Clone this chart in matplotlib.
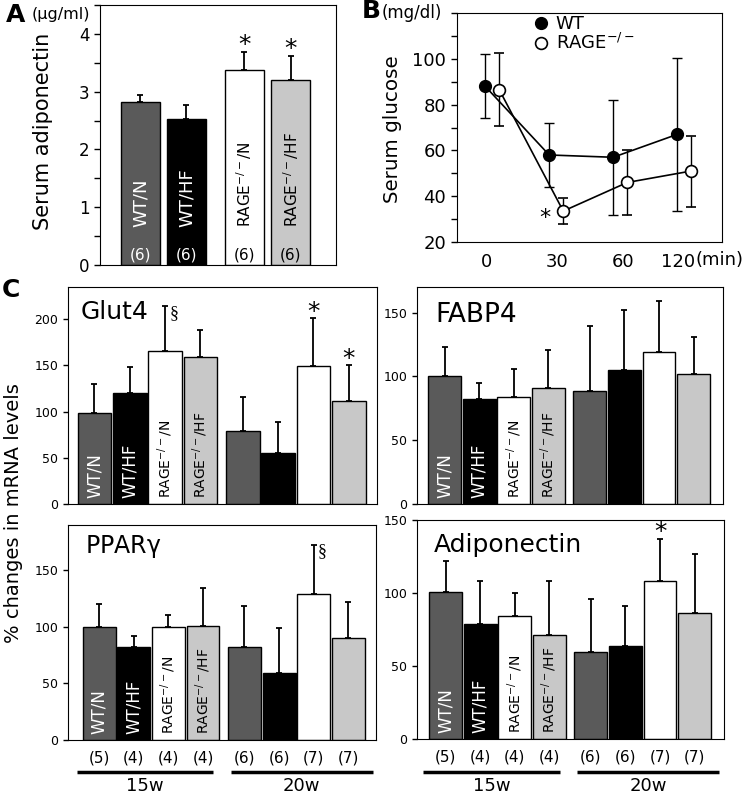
import matplotlib
matplotlib.use('Agg')
import matplotlib.pyplot as plt
from matplotlib.lines import Line2D
from matplotlib.ticker import MultipleLocator
import numpy as np

# ---- data ----
# A: serum adiponectin (ug/ml)
a_groups = ['WT/N', 'WT/HF', 'RAGE$^{-/-}$/N', 'RAGE$^{-/-}$/HF']
a_mean = [2.82, 2.53, 3.37, 3.21]
a_err = [0.12, 0.24, 0.32, 0.41]
a_n = [6, 6, 6, 6]
a_star = [False, False, True, True]

# B: serum glucose (mg/dl)
b_times = ['0', '30', '60', '120']
b_wt = [88, 58, 57, 67]
b_wt_err = [14, 14, 25, 33.5]
b_rage = [86.5, 33.5, 46, 51]
b_rage_err = [16, 5.75, 14, 15.5]

# C: % changes in mRNA levels
c_n = [5, 4, 4, 4, 6, 6, 7, 7]
glut4 = [99, 120, 166, 159, 79.5, 55.4, 149, 112]
glut4_err = [31, 28.6, 48, 29.5, 36.5, 33.6, 52, 38]
fabp4 = [100.2, 82.3, 83.7, 90.5, 88.4, 104.6, 119, 101.8]
fabp4_err = [22.8, 12.7, 22.3, 30.5, 51.1, 47.2, 39.7, 29.2]
pparg = [100, 82.4, 100, 101, 82.4, 59.4, 129.4, 90]
pparg_err = [20, 9.4, 10.6, 33.4, 35.6, 39.4, 43, 31.8]
adipo = [101, 78.9, 84.2, 71.1, 59.6, 63.8, 108.3, 86]
adipo_err = [20.6, 29.6, 16, 37.4, 36.3, 27, 28.9, 40.6]

colors = ['#5a5a5a', '#000000', '#ffffff', '#c8c8c8']
txt_colors = ['white', 'white', 'black', 'black']

plt.rcParams['font.family'] = ['DejaVu Sans']
plt.rcParams['mathtext.default'] = 'regular'

W, H = 747, 796


def rect(x0, y0, x1, y1):
    return [x0 / W, 1 - y1 / H, (x1 - x0) / W, (y1 - y0) / H]


def fpos(x, y):
    return x / W, 1 - y / H


fig = plt.figure(figsize=(W / 100, H / 100), dpi=100)

# ---------- panel A ----------
axA = fig.add_axes(rect(100, 5, 336, 265))
xa = np.array([0, 1, 2.26, 3.27])
axA.bar(xa, a_mean, width=0.85, color=colors, edgecolor='black', linewidth=1, zorder=2)
axA.errorbar(xa, a_mean, yerr=[np.zeros(4), a_err], fmt='none', ecolor='black',
             elinewidth=1.3, capsize=2.5, capthick=1.3, zorder=1)
for i in range(4):
    fs = 13 if i < 2 else 11
    axA.text(xa[i], 0.66, a_groups[i], rotation=90, ha='center', va='bottom',
             color=txt_colors[i], fontsize=fs)
    axA.text(xa[i], 0.17, '(%d)' % a_n[i], ha='center', va='center',
             color=txt_colors[i], fontsize=11)
    if a_star[i]:
        axA.annotate('*', (xa[i], a_mean[i] + a_err[i]), xytext=(0, -4),
                     textcoords='offset points', ha='center', va='bottom', fontsize=18)
axA.set_xlim(-0.88, 4.25)
axA.set_ylim(0, 4.5)
axA.set_yticks([0, 1, 2, 3, 4])
axA.yaxis.set_minor_locator(MultipleLocator(0.5))
axA.set_xticks([])
axA.tick_params(axis='y', which='both', direction='out', length=4, width=1, labelsize=12)
fig.text(*fpos(43, 131), 'Serum adiponectin', rotation=90, ha='center', va='center', fontsize=15)
fig.text(*fpos(32, 15), '(\u03bcg/ml)', ha='left', va='center', fontsize=11.5)
fig.text(*fpos(16, 15), 'A', ha='center', va='center', fontsize=18, fontweight='bold')

# ---------- panel B ----------
axB = fig.add_axes(rect(457, 13, 722, 242))
xb = np.arange(4)
xr = xb + 0.22
axB.errorbar(xb, b_wt, yerr=b_wt_err, fmt='-o', color='black', mfc='black', mec='black',
             ms=8.5, lw=1.2, elinewidth=1, capsize=3.5, capthick=1, zorder=3)
axB.errorbar(xr, b_rage, yerr=b_rage_err, fmt='-o', color='black', mfc='white', mec='black',
             mew=1.2, ms=8.5, lw=1.2, elinewidth=1, capsize=3.5, capthick=1, zorder=3)
axB.annotate('*', (xr[1], b_rage[1]), xytext=(-13, -12), textcoords='offset points',
             ha='center', va='bottom', fontsize=16)
axB.set_xlim(-0.44, 3.7)
axB.set_ylim(20, 120)
axB.set_yticks([20, 40, 60, 80, 100])
axB.yaxis.set_minor_locator(MultipleLocator(10))
axB.set_xticks([0.02, 1.13, 2.15, 3.02])
axB.set_xticklabels(b_times)
axB.tick_params(axis='y', which='both', direction='out', length=4.5, width=1, labelsize=13)
axB.tick_params(axis='x', length=0, labelsize=13, pad=8)
handles = [Line2D([], [], marker='o', ls='none', color='black', mfc='black', ms=8.5),
           Line2D([], [], marker='o', ls='none', color='black', mfc='white', mew=1.2, ms=8.5)]
axB.legend(handles, ['WT', 'RAGE$^{-/-}$'], loc='upper left', bbox_to_anchor=(0.29, 0.99),
           frameon=False, fontsize=13, handlelength=0.8, handletextpad=0.4,
           labelspacing=0.0, borderpad=0, borderaxespad=0)
axB.text(0.9, -0.079, '(min)', transform=axB.transAxes, ha='left', va='center', fontsize=13)
fig.text(*fpos(393, 129), 'Serum glucose', rotation=90, ha='center', va='center', fontsize=14.3)
fig.text(*fpos(442, 13), '(mg/dl)', ha='right', va='center', fontsize=12)
fig.text(*fpos(371, 11), 'B', ha='center', va='center', fontsize=18, fontweight='bold')

# ---------- panel C ----------
xc = np.array([0, 1, 2, 3, 4.2, 5.2, 6.2, 7.2])
c_colors = colors * 2
c_labels = ['WT/N', 'WT/HF', 'RAGE$^{-/-}$/N', 'RAGE$^{-/-}$/HF']

panels = [
    # name, values, errors, box, ylim, xlim, title pos, title size, stars, sections
    ('Glut4', glut4, glut4_err, (68, 287, 377, 504), 235, (-0.75, 8.0), (0.04, 0.853), 18, [6, 7], [2]),
    ('FABP4', fabp4, fabp4_err, (417, 287, 723, 504), 170, (-0.8, 8.05), (0.06, 0.839), 19, [], []),
    ('PPAR$\\gamma$', pparg, pparg_err, (68, 525, 376, 740), 190, (-0.9, 8.0), (0.055, 0.87), 17, [], [6]),
    ('Adiponectin', adipo, adipo_err, (417, 520, 724, 739), 150, (-0.83, 8.05), (0.055, 0.854), 18, [6], []),
]

for k, (name, vals, errs, box, ytop, xl, tpos, tsize, stars, secs) in enumerate(panels):
    ax = fig.add_axes(rect(*box))
    ax.bar(xc, vals, width=0.95, color=c_colors, edgecolor='black', linewidth=1, zorder=2)
    ax.errorbar(xc, vals, yerr=[np.zeros(8), errs], fmt='none', ecolor='black',
                elinewidth=1.3, capsize=2.5, capthick=1.3, zorder=1)
    for i in range(4):
        fs = 12 if i < 2 else 10
        ax.text(xc[i], ytop * 0.028, c_labels[i], rotation=90, ha='center', va='bottom',
                color=txt_colors[i], fontsize=fs, zorder=3)
    for i in stars:
        ax.annotate('*', (xc[i], vals[i] + errs[i]), xytext=(0, -4),
                    textcoords='offset points', ha='center', va='bottom', fontsize=18)
    for i in secs:
        ax.annotate('\u00a7', (xc[i], vals[i] + errs[i]), xytext=(3, 1),
                    textcoords='offset points', ha='left', va='top', fontsize=13,
                    family='Liberation Serif')
    ax.text(tpos[0], tpos[1], name, transform=ax.transAxes, ha='left', va='baseline',
            fontsize=tsize)
    ax.set_xlim(*xl)
    ax.set_ylim(0, ytop)
    ax.set_yticks([0, 50, 100, 150] + ([200] if ytop > 200 else []))
    ax.set_xticks([])
    ax.tick_params(axis='y', direction='out', length=3.5, width=1, labelsize=9)
    if k >= 2:
        tr = ax.get_xaxis_transform()
        for i in range(8):
            ax.text(xc[i], -0.084, '(%d)' % c_n[i], transform=tr, ha='center', va='center',
                    fontsize=11)
        for x0, x1, lab in [(-0.65, 3.3, '15w'), (3.8, 7.9, '20w')]:
            ax.plot([x0, x1], [-0.149, -0.149], color='black', lw=2.5, transform=tr,
                    clip_on=False, solid_capstyle='butt')
            ax.text((x0 + x1) / 2, -0.215, lab, transform=tr, ha='center', va='center',
                    fontsize=13)

fig.text(*fpos(14, 513), '% changes in mRNA levels', rotation=90, ha='center', va='center',
         fontsize=14)
fig.text(*fpos(11, 290), 'C', ha='center', va='center', fontsize=18, fontweight='bold')

fig.savefig('out.png', dpi=100, facecolor='white')
